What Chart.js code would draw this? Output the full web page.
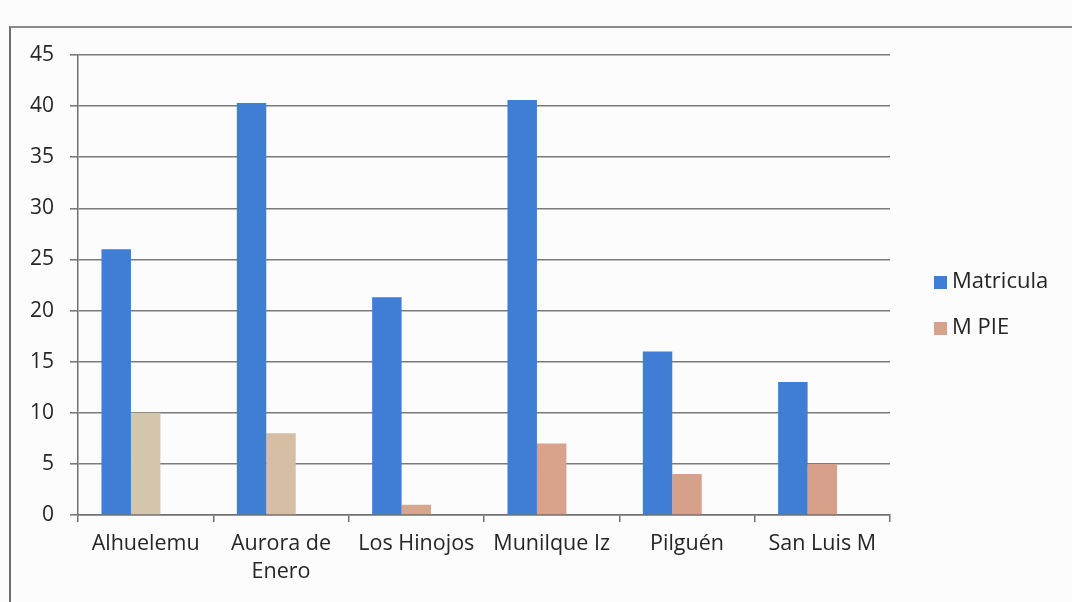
<!DOCTYPE html>
<html>
<head>
<meta charset="utf-8">
<script src="https://cdn.jsdelivr.net/npm/chart.js@4.4.0/dist/chart.umd.min.js"></script>
<style>
    body { margin: 0; background: #fcfcfc; }
    #frame { position: absolute; left: 9px; top: 26px; width: 1100px; height: 620px;
             border-left: 2px solid #6e6e6e; border-top: 2px solid #8a8a8a; }
    #wrap { position: absolute; left: 0; top: 0; width: 1072px; height: 602px; }
</style>
</head>
<body>
<div id="frame"></div>
<div id="wrap"><canvas id="chart" width="1072" height="602"></canvas></div>
<script>
    // data
    const schools = ['Alhuelemu', ['Aurora de', 'Enero'], 'Los Hinojos', 'Munilque Iz', 'Pilguén', 'San Luis M'];
    const matricula = [26, 40.3, 21.3, 40.6, 16, 13];
    const mPie = [10, 8, 1, 7, 4, 5];
    const yTicks = [0, 5, 10, 15, 20, 25, 30, 35, 40, 45];

    const blue = '#3f7ed4';
    const pieColors = ['#d4c6ad', '#d6bea4', '#d8a58f', '#d8a28c', '#d6a08a', '#d6a08a'];
    const FONT = '"Open Sans", "DejaVu Sans", sans-serif';

    // legend drawn by hand so it sits where the reference has it
    const sideLegend = {
        id: 'sideLegend',
        afterDraw(chart) {
            const ctx = chart.ctx;
            const items = [
                { text: 'Matricula', color: blue, y: 282 },
                { text: 'M PIE', color: '#d6a28c', y: 328 }
            ];
            ctx.save();
            ctx.font = '22px ' + FONT;
            ctx.textBaseline = 'middle';
            items.forEach(it => {
                ctx.fillStyle = it.color;
                ctx.fillRect(934, it.y - 6, 13, 13);
                ctx.fillStyle = '#262626';
                ctx.fillText(it.text, 952, it.y);
            });
            ctx.restore();
        }
    };

    new Chart(document.getElementById('chart'), {
        type: 'bar',
        data: {
            labels: schools,
            datasets: [
                { label: 'Matricula', data: matricula, backgroundColor: blue },
                { label: 'M PIE', data: mPie, backgroundColor: pieColors },
                { label: '', data: schools.map(() => null), backgroundColor: 'rgba(0,0,0,0)' }
            ]
        },
        options: {
            responsive: false,
            animation: false,
            layout: { padding: { left: 0, top: 55, right: 182, bottom: 0 } },
            categoryPercentage: 0.653,
            barPercentage: 1,
            plugins: { legend: { display: false }, tooltip: { enabled: false } },
            scales: {
                x: {
                    grid: { display: true, drawOnChartArea: false, offset: true, tickLength: 7,
                            color: '#707070', lineWidth: 1.5 },
                    border: { color: '#707070', width: 1.5 },
                    ticks: { color: '#262626', font: { family: FONT, size: 21.5, lineHeight: 1.3 }, padding: 8,
                             maxRotation: 0, autoSkip: false },
                    afterFit(scale) { scale.height = 87; }
                },
                y: {
                    min: 0, max: 45,
                    afterBuildTicks(scale) { scale.ticks = yTicks.map(v => ({ value: v })); },
                    grid: { color: '#7a7a7a', lineWidth: 1.6, tickLength: 8 },
                    border: { color: '#707070', width: 1.5 },
                    ticks: { color: '#262626', font: { family: FONT, size: 21 }, padding: 16 },
                    afterFit(scale) { scale.width = 78; }
                }
            }
        },
        plugins: [sideLegend]
    });
</script>
</body>
</html>
